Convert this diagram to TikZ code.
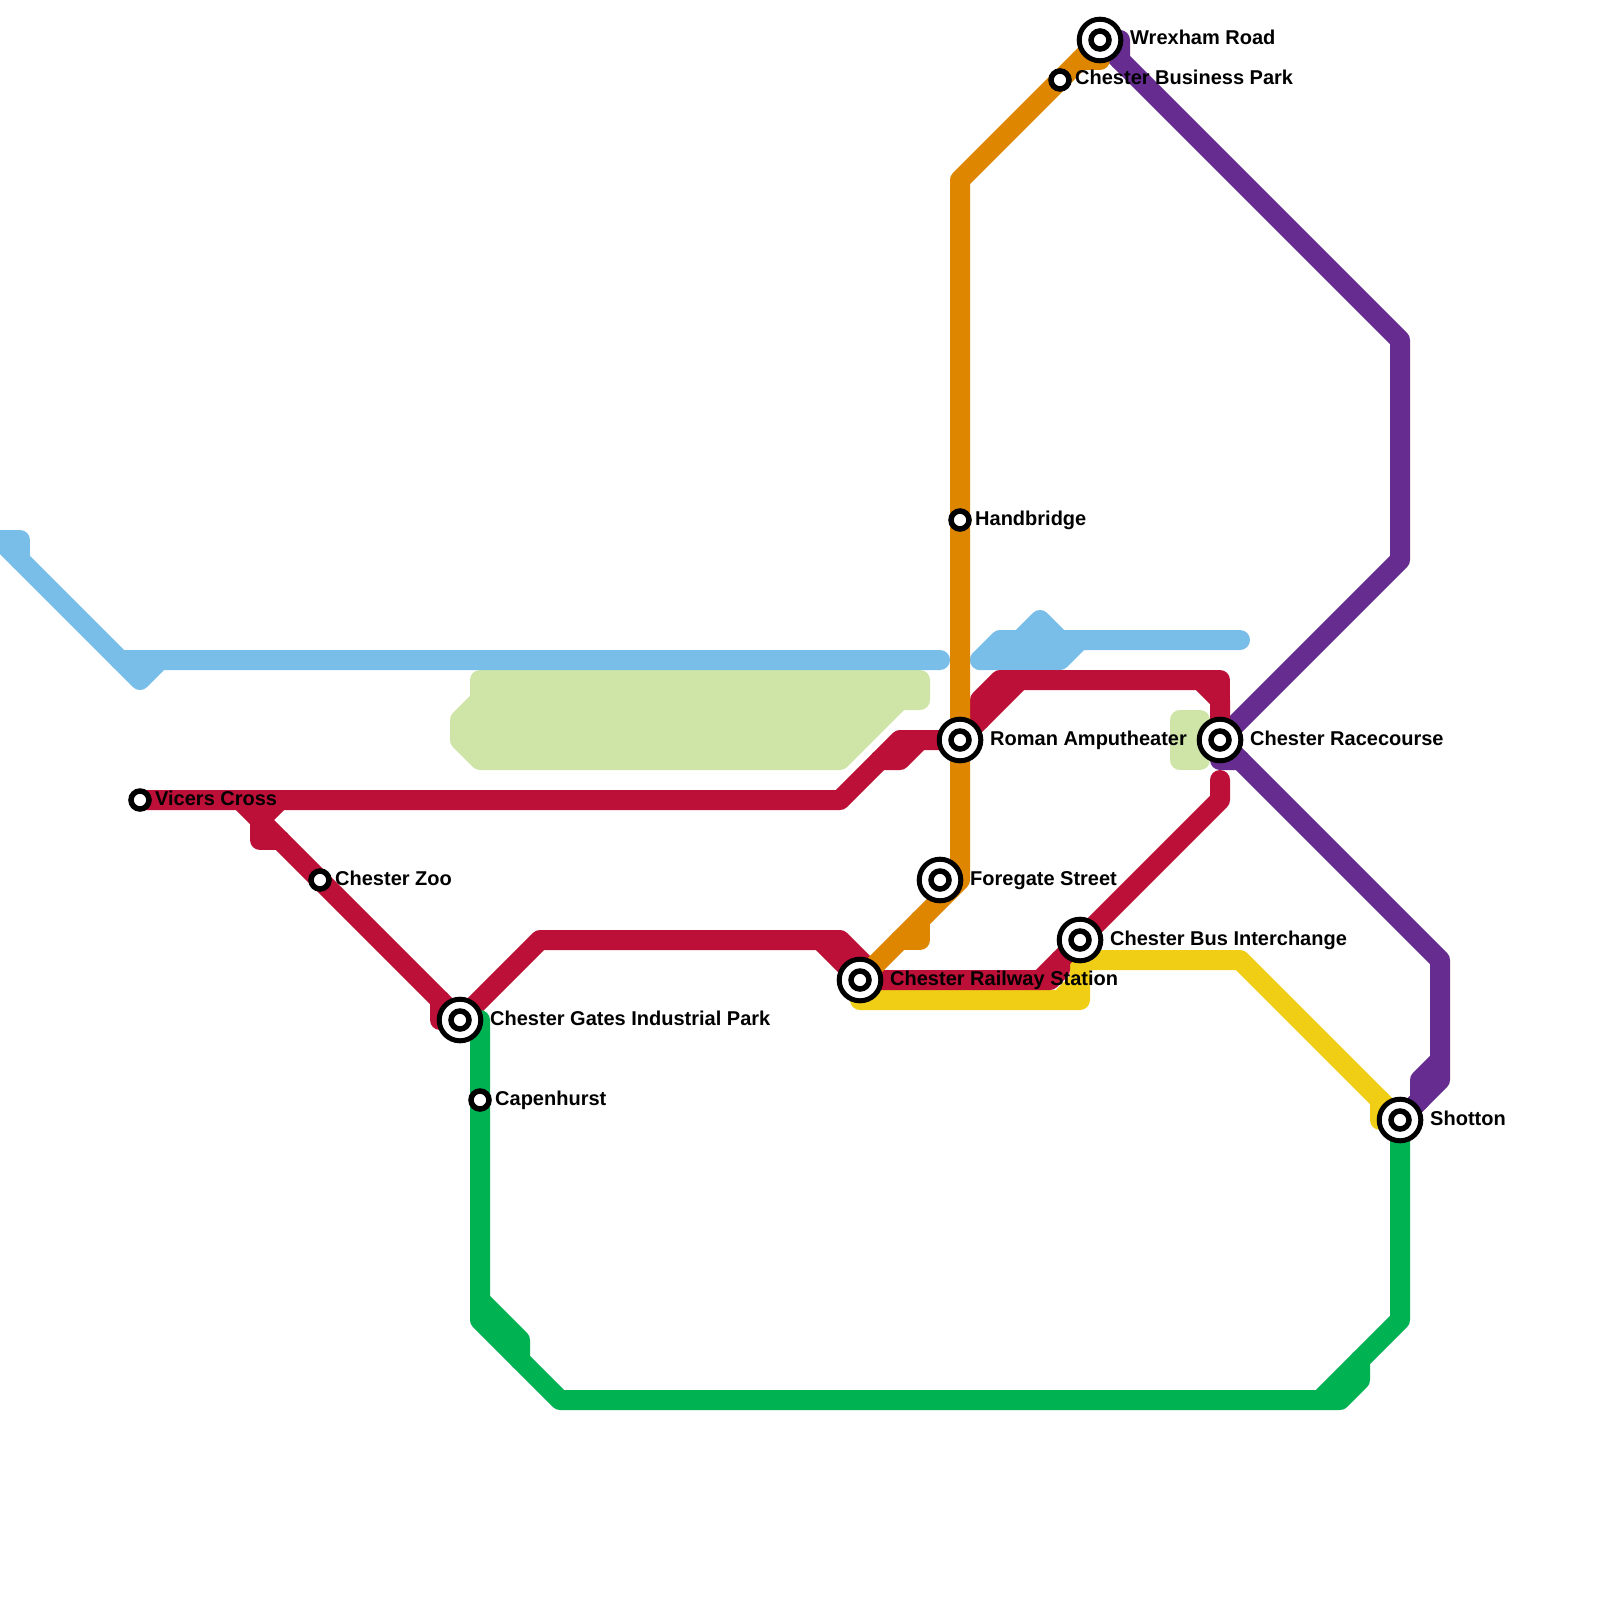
\documentclass[tikz,border=0pt]{standalone}
\usepackage{fontspec}
\setmainfont{Liberation Sans}
\usepackage{xcolor}
\definecolor{line_red}{HTML}{BD1038}
\definecolor{line_blue}{HTML}{79BDE9}
\definecolor{line_orange}{HTML}{DF8600}
\definecolor{line_green}{HTML}{00B251}
\definecolor{line_yellow}{HTML}{F0CE15}
\definecolor{line_purple}{HTML}{662C90}
\definecolor{park_green}{HTML}{CFE4A7}
\usetikzlibrary{backgrounds}
\begin{document}
\begin{tikzpicture}[
	x=1pt, y=-1pt,
	% Define styles for the map
	metro/.style={
		line width=20pt,
		line cap=round,
		line join=round
	},
	park/.style={
		metro,
		draw=park_green,
		fill=park_green
	},
	hub/.style={
		circle,
		draw=black,
		fill=white,
		line width=5pt,
		minimum size=41.6pt,
		inner sep=0pt,
		outer sep=0pt,
		path picture={\draw[line width=5.5pt] (path picture bounding box.center) circle (9pt);}
	},
	halt/.style={
		circle,
		draw=black,
		fill=white,
		line width=5.5pt,
		minimum size=18pt,
		inner sep=0pt,
		outer sep=0pt
	},
	stop_text/.style={
		font=\bfseries\fontsize{20}{24}\selectfont,
		anchor=base west,
		inner sep=0pt
	}
	]
	\useasboundingbox (0,0) rectangle (1600,1600);

	% --- 1. STATIONS ---
	\node[hub] (wrexham) at (1100,40) {};
	\node[halt] (business) at (1060,80) {};
	\node[halt] (handbridge) at (960,520) {};
	\node[hub] (roman) at (960,740) {};
	\node[hub] (racecourse) at (1220,740) {};
	\node[halt] (vicers) at (140,800) {};
	\node[halt] (zoo) at (320,880) {};
	\node[hub] (foregate) at (940,880) {};
	\node[hub] (bus) at (1080,940) {};
	\node[hub] (railway) at (860,980) {};
	\node[hub] (gates) at (460,1020) {};
	\node[halt] (capenhurst) at (480,1100) {};
	\node[hub] (shotton) at (1400,1120) {};

	% --- 2. STATION NAMES ---
	\node[stop_text] (wrexham_text) at ([xshift=30pt, yshift=-5pt]wrexham.center) {Wrexham Road};
	\node[stop_text] (business_text) at ([xshift=15pt, yshift=-5pt]business.center) {Chester Business Park};
	\node[stop_text] (handbridge_text) at ([xshift=15pt, yshift=-5pt]handbridge.center) {Handbridge};
	\node[stop_text] (roman_text) at ([xshift=30pt, yshift=-5pt]roman.center) {Roman Amputheater};
	\node[stop_text] (racecourse_text) at ([xshift=30pt, yshift=-5pt]racecourse.center) {Chester Racecourse};
	\node[stop_text] (vicers_text) at ([xshift=15pt, yshift=-5pt]vicers.center) {Vicers Cross};
	\node[stop_text] (zoo_text) at ([xshift=15pt, yshift=-5pt]zoo.center) {Chester Zoo};
	\node[stop_text] (foregate_text) at ([xshift=30pt, yshift=-5pt]foregate.center) {Foregate Street};
	\node[stop_text] (bus_text) at ([xshift=30pt, yshift=-5pt]bus.center) {Chester Bus Interchange};
	\node[stop_text] (railway_text) at ([xshift=30pt, yshift=-5pt]railway.center) {Chester Railway Station};
	\node[stop_text] (gates_text) at ([xshift=30pt, yshift=-5pt]gates.center) {Chester Gates Industrial Park};
	\node[stop_text] (capenhurst_text) at ([xshift=15pt, yshift=-5pt]capenhurst.center) {Capenhurst};
	\node[stop_text] (shotton_text) at ([xshift=30pt, yshift=-5pt]shotton.center) {Shotton};

	\begin{scope}[on background layer]
		% --- 3. PARKS ---
		\filldraw[park] (480,680) -- (920,680) -- (920,700) -- (900,700) -- (840,760) -- (480,760) -- (460,740) -- (460,720) -- (480,700) -- cycle;
		\filldraw[park] (1180,720) -- (1200,720) -- (1200,760) -- (1180,760) -- cycle;

		% --- 4. BLUE LINE ---
		\draw[metro, line_blue] (0,540) -- (20,540) -- (20,560);
		\draw[metro, line_blue] (0,540) -- (140,680) -- (160,660) -- (940,660);
		\draw[metro, line_blue] (120,660) -- (160,660);
		\draw[metro, line_blue] (980,660) -- (1000,640) -- (1240,640);
		\draw[metro, line_blue] (980,660) -- (1060,660) -- (1080,640);
		\draw[metro, line_blue] (1020,640) -- (1040,620) -- (1060,640);

		% --- 5. YELLOW LINE ---
		\draw[metro, line_yellow] (railway.center) -- (860,1000) -- (1080,1000) -- (1080,960) -- (1240,960) -- (shotton.center);
		\draw[metro, line_yellow] (1060,1000) -- (1080,980);
		\draw[metro, line_yellow] (1380,1100) -- (1380,1120) -- (shotton.center);

		% --- 6. PURPLE LINE ---
		\draw[metro, line_purple] (wrexham.center) -- (1120,40) -- (1120,60) -- (1400,340) -- (1400,560) -- (racecourse.center) -- (1220,760) -- (1240,760) -- (1440,960) -- (1440,1080) -- (shotton.center);
		\draw[metro, line_purple] (wrexham.center) -- (1120,60);
		\draw[metro, line_purple] (racecourse.center) -- (1240,760);
		\draw[metro, line_purple] (1440,1060) -- (1420,1080) -- (1420,1100) -- (shotton.center);

		% --- 7. RED LINE ---
		\draw[metro, line_red] (vicers.center) -- (840,800) -- (900,740) -- (roman.center) -- (1020,680) -- (1200,680) -- (1220,700) -- (racecourse.center);
		\draw[metro, line_red] (880,760) -- (900,760) -- (920,740);
		\draw[metro, line_red] (980,720) -- (980,700) -- (1000,680) -- (1020,680);
		\draw[metro, line_red] (1200,680) -- (1220,680) -- (1220,700);
		\draw[metro, line_red] (240,800) -- (260,820) -- (280,800);
		\draw[metro, line_red] (260,820) -- (260,840) -- (280,840);
		\draw[metro, line_red] (260,820) -- (zoo.center) -- (gates.center) -- (540,940) -- (840,940) -- (880,980);
		\draw[metro, line_red] (440,1000) -- (440,1020) -- (gates.center);
		\draw[metro, line_red] (820,940) -- (railway.center) -- (1050,980) -- (1060,970) -- (1060,960);
		\draw[metro, line_red] (1040,980) -- (bus.center) -- (1220,800) -- (1220,780);

		% --- 8. ORANGE LINE ---
		\draw[metro, line_orange] (wrexham.center) -- (960,180) -- (handbridge.center) -- (roman.center) -- (960,880) -- (railway.center);
		\draw[metro, line_orange] (1080,60) -- (1100,60) -- (wrexham.center);
		\draw[metro, line_orange] (920,920) -- (920,940) -- (900,940);

		% --- 9. GREEN LINE ---
		\draw[metro, line_green] (gates.center) -- (480,1020) -- (capenhurst.center) -- (480,1320) -- (560,1400) -- (1320,1400) -- (1400,1320) -- (shotton.center);
		\draw[metro, line_green] (480,1300) -- (520,1340) -- (520,1360);
		\draw[metro, line_green] (1360,1360) -- (1360,1380) -- (1340,1400) -- (1320,1400);
	\end{scope}
\end{tikzpicture}
\end{document}
